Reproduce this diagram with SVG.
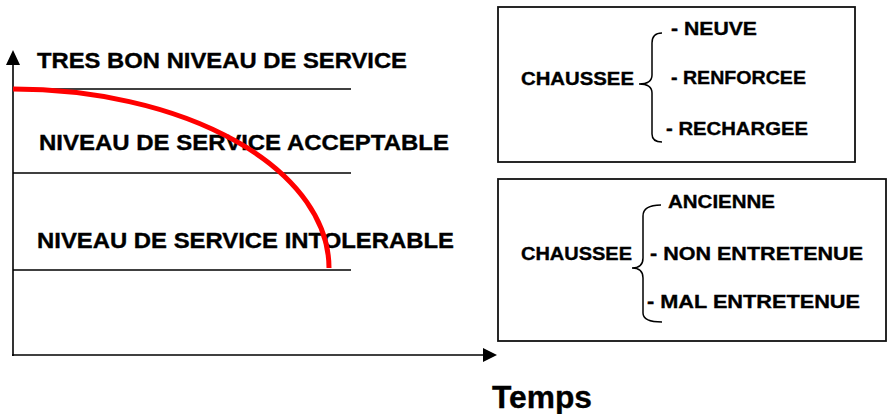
<svg xmlns="http://www.w3.org/2000/svg" width="889" height="414" viewBox="0 0 889 414">
  <style>
    .lbl { font-family: "Liberation Sans", Arial, sans-serif; font-weight: bold; fill: #000; stroke: #000; stroke-width: 0.35; }
    .big { font-size: 22px; }
    .small { font-size: 18.8px; }
    .axis { stroke: #000; stroke-width: 1.6; fill: none; }
    .level { stroke: #000; stroke-width: 1.5; fill: none; }
    .box { stroke: #111; stroke-width: 1.8; fill: #fff; }
    .brace { stroke: #000; stroke-width: 1.5; fill: none; }
  </style>
  <rect width="889" height="414" fill="#fff"/>

  <!-- axes and level separators -->
  <g id="connectors">
    <line class="axis" x1="13" y1="62" x2="13" y2="356"/>
    <polygon points="13,50 6,65 20,65" fill="#000"/>
    <line class="axis" x1="12" y1="355" x2="485" y2="355"/>
    <polygon points="497,355 483,348 483,362" fill="#000"/>
    <line class="level" x1="13" y1="89" x2="351" y2="89"/>
    <line class="level" x1="13" y1="173" x2="351" y2="173"/>
    <line class="level" x1="13" y1="270" x2="351" y2="270"/>
  </g>

  <g id="levels">
    <text class="lbl big" x="37" y="68" textLength="370" lengthAdjust="spacingAndGlyphs">TRES BON NIVEAU DE SERVICE</text>
    <text class="lbl big" x="39" y="150" textLength="410" lengthAdjust="spacingAndGlyphs">NIVEAU DE SERVICE ACCEPTABLE</text>
    <text class="lbl big" x="37" y="248" textLength="417" lengthAdjust="spacingAndGlyphs">NIVEAU DE SERVICE INTOLERABLE</text>
  </g>

  <!-- degradation curve -->
  <g id="curve">
    <path d="M13,89 A316,179 0 0 1 329,268" stroke="#ff0000" stroke-width="5" fill="none"/>
  </g>

  <g id="box-good">
    <rect class="box" x="498" y="7" width="357" height="155"/>
    <text class="lbl small" x="521" y="85" textLength="113" lengthAdjust="spacingAndGlyphs">CHAUSSEE</text>
    <path class="brace" d="M662,33 Q652,33 652,43 L652,75 Q652,84 639,84 Q652,84 652,93 L652,134 Q652,142 662,142"/>
    <text class="lbl small" x="671" y="35" textLength="86" lengthAdjust="spacingAndGlyphs">- NEUVE</text>
    <text class="lbl small" x="671" y="84" textLength="135" lengthAdjust="spacingAndGlyphs">- RENFORCEE</text>
    <text class="lbl small" x="666" y="135" textLength="142" lengthAdjust="spacingAndGlyphs">- RECHARGEE</text>
  </g>

  <g id="box-poor">
    <rect class="box" x="498" y="179" width="388" height="162"/>
    <text class="lbl small" x="521" y="260" textLength="111" lengthAdjust="spacingAndGlyphs">CHAUSSEE</text>
    <path class="brace" d="M661,205 Q643,205 643,216 L643,258 Q643,268 632,268 Q643,268 643,278 L643,313 Q643,322 662,322"/>
    <text class="lbl small" x="668" y="208" textLength="107" lengthAdjust="spacingAndGlyphs">ANCIENNE</text>
    <text class="lbl small" x="650" y="260" textLength="213" lengthAdjust="spacingAndGlyphs">- NON ENTRETENUE</text>
    <text class="lbl small" x="647" y="308" textLength="213" lengthAdjust="spacingAndGlyphs">- MAL ENTRETENUE</text>
  </g>

  <g id="time-label">
    <text class="lbl" font-size="31" x="492" y="408" textLength="100" lengthAdjust="spacingAndGlyphs">Temps</text>
  </g>
</svg>
